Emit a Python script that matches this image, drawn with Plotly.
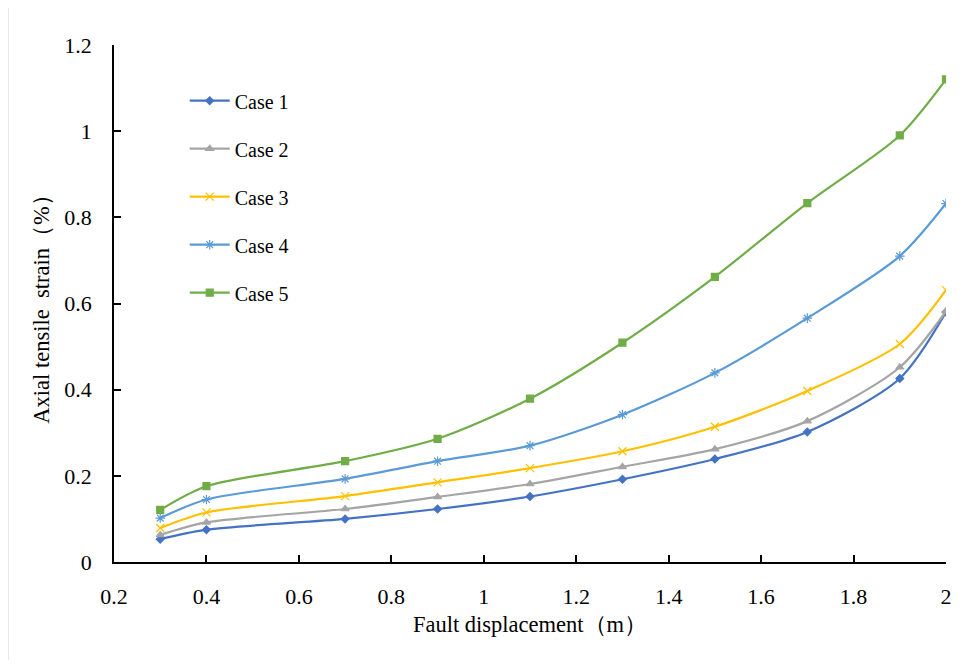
import plotly.graph_objects as go

x_vals = [0.3, 0.4, 0.7, 0.9, 1.1, 1.3, 1.5, 1.7, 1.9, 2.0]
case1 = [0.053, 0.075, 0.100, 0.123, 0.152, 0.192, 0.239, 0.302, 0.426, 0.580]
case2 = [0.063, 0.092, 0.123, 0.151, 0.181, 0.221, 0.262, 0.327, 0.452, 0.582]
case3 = [0.079, 0.115, 0.153, 0.185, 0.218, 0.257, 0.314, 0.397, 0.506, 0.631]
case4 = [0.102, 0.145, 0.193, 0.234, 0.270, 0.342, 0.439, 0.566, 0.710, 0.832]
case5 = [0.121, 0.176, 0.234, 0.286, 0.379, 0.509, 0.662, 0.833, 0.990, 1.120]

names = ["Case 1", "Case 2", "Case 3", "Case 4", "Case 5"]
series = [case1, case2, case3, case4, case5]
colors = ["#4472C4", "#A5A5A5", "#FFC000", "#5B9BD5", "#70AD47"]
symbols = ["diamond", "triangle-up", "x-thin-open", "asterisk-open", "square"]
sizes = [6, 7, 8, 8, 7]

x_ticks = [0.2, 0.4, 0.6, 0.8, 1.0, 1.2, 1.4, 1.6, 1.8, 2.0]
x_ticktext = ["0.2", "0.4", "0.6", "0.8", "1", "1.2", "1.4", "1.6", "1.8", "2"]
y_ticks = [0, 0.2, 0.4, 0.6, 0.8, 1.0, 1.2]
y_ticktext = ["0", "0.2", "0.4", "0.6", "0.8", "1", "1.2"]

FONT = "Liberation Serif, Times New Roman, serif"

fig = go.Figure()
for i, (nm, ys) in enumerate(zip(names, series)):
    fig.add_trace(go.Scatter(
        x=x_vals, y=ys, name=nm, mode="lines+markers",
        line=dict(color=colors[i], width=2.2, shape="spline", smoothing=0.8),
        marker=dict(symbol=symbols[i], size=sizes[i], color=colors[i],
                    line=dict(color=colors[i], width=1.2)),
        legendgroup=nm,
    ))

fig.update_layout(
    width=962, height=652,
    margin=dict(l=106, r=24, t=37, b=98),
    paper_bgcolor="white", plot_bgcolor="white",
    font=dict(family=FONT, size=22, color="#000000"),
    showlegend=True,
    legend=dict(
        x=0.085, y=0.93, xanchor="left", yanchor="top",
        font=dict(family=FONT, size=20, color="#000000"),
        bgcolor="rgba(0,0,0,0)", tracegroupgap=19, itemwidth=40,
    ),
    xaxis=dict(
        range=[0.2, 2.0], tickvals=x_ticks, ticktext=x_ticktext,
        showline=True, linecolor="#000000", linewidth=1.5,
        ticks="inside", ticklen=7, tickcolor="#000000", tickwidth=1.5,
        showgrid=False, zeroline=False, ticklabelstandoff=14,
        tickfont=dict(family=FONT, size=22),
        title=dict(text="Fault displacement（m）", font=dict(family=FONT, size=22.5), standoff=8),
    ),
    yaxis=dict(
        range=[0, 1.2], tickvals=y_ticks, ticktext=y_ticktext,
        showline=True, linecolor="#000000", linewidth=1.5,
        ticks="inside", ticklen=7, tickcolor="#000000", tickwidth=1.5,
        showgrid=False, zeroline=False, ticklabelstandoff=16,
        tickfont=dict(family=FONT, size=22),
        title=dict(text="Axial tensile  strain（%）", font=dict(family=FONT, size=22.5), standoff=8),
    ),
    shapes=[dict(
        type="rect", xref="paper", yref="paper",
        x0=-0.128, x1=1.2, y0=-0.3, y1=1.0735,
        line=dict(color="#D0D0D0", width=2), fillcolor="rgba(0,0,0,0)", layer="below",
    )],
)

fig.write_html("out.html")
